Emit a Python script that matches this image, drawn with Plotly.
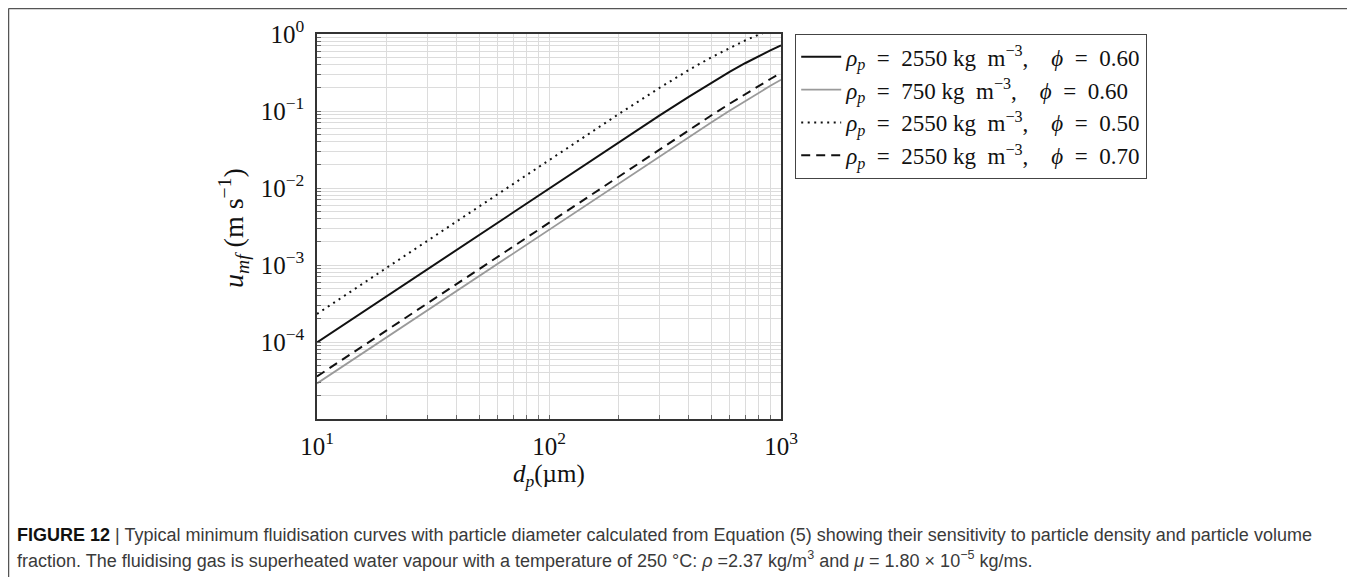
import plotly.graph_objects as go

# particle diameter (µm)
d_p = [10, 100, 200, 300, 400, 500, 600, 700, 800, 900, 1000]

# minimum fluidisation velocity (m/s)
u_2550_060 = [9.87e-5, 9.865e-3, 3.931e-2, 8.757e-2, 0.1528, 0.2320, 0.3214, 0.4170, 0.5154, 0.6139, 0.7107]
u_750_060 = [2.897e-5, 2.8965e-3, 1.1573e-2, 2.5963e-2, 4.589e-2, 7.1045e-2, 0.10095, 0.13498, 0.1724, 0.21244, 0.25432]
u_2550_050 = [2.3135e-4, 2.31e-2, 9.144e-2, 0.2003, 0.3398, 0.4972, 0.6608, 0.8226, 0.9781, 1.1255, 1.2642]
u_2550_070 = [3.569e-5, 3.5684e-3, 1.4257e-2, 3.1977e-2, 5.6504e-2, 8.7434e-2, 0.12415, 0.16585, 0.21161, 0.26045, 0.31142]

NB = "\u00a0"
rho_vals = ["2550", "750", "2550", "2550"]
phi_vals = ["0.60", "0.60", "0.50", "0.70"]
series_names = [
    "<i>ρ<sub>p</sub></i>" + NB * 2 + "=" + NB * 2 + r + NB + "kg" + NB * 2 + "m<sup>−3</sup>," + NB * 4
    + "<i>ϕ</i>" + NB * 2 + "=" + NB * 2 + f
    for r, f in zip(rho_vals, phi_vals)
]

x_tickvals = [m * 10 ** e for e in (1, 2) for m in range(1, 10)] + [1000]
x_ticktext = [("10<sup>%d</sup>" % e if m == 1 else "") for e in (1, 2) for m in range(1, 10)] + ["10<sup>3</sup>"]
y_tickvals = [m * 10.0 ** e for e in (-5, -4, -3, -2, -1) for m in range(1, 10)] + [1.0]
y_ticktext = [("10<sup>−%d</sup>" % (-e) if (m == 1 and e != -5) else "") for e in (-5, -4, -3, -2, -1) for m in range(1, 10)] + ["10<sup>0</sup>"]

SERIF = "Liberation Serif, Times New Roman, serif"
SANS = "Liberation Sans, Arial, sans-serif"

fig = go.Figure()
styles = [
    dict(color="#111111", width=2.0, dash="solid"),
    dict(color="#9a9a9a", width=1.8, dash="solid"),
    dict(color="#111111", width=2.0, dash="2px,4.5px"),
    dict(color="#111111", width=2.0, dash="9px,6px"),
]
for name, ys, st in zip(series_names, [u_2550_060, u_750_060, u_2550_050, u_2550_070], styles):
    fig.add_trace(go.Scatter(x=d_p, y=ys, mode="lines", name=name, line=st))

axis_common = dict(
    type="log",
    showgrid=True,
    gridcolor="#dcdcdc",
    gridwidth=1,
    showline=True,
    linecolor="#333333",
    linewidth=1.5,
    mirror=True,
    ticks="inside",
    ticklen=4,
    tickcolor="#666666",
    tickfont=dict(family=SERIF, size=25, color="#111111"),
    zeroline=False,
)

fig.update_xaxes(range=[1, 3], tickvals=x_tickvals, ticktext=x_ticktext,
                 ticklabelstandoff=4, **axis_common)
fig.update_yaxes(range=[-5, 0], tickvals=y_tickvals, ticktext=y_ticktext,
                 ticklabelstandoff=6, **axis_common)

# page is drawn with an 8 px body margin: figure coords = window coords - 8
OFF = 8
W, H = 1355 - OFF, 577 - OFF
L, R, T, B = 317 - OFF, 781 - OFF, 34 - OFF, 419 - OFF
pw, ph = R - L, B - T

def px(xw):
    return (xw - OFF - L) / pw

def py(yw):
    return (B - (yw - OFF)) / ph

fig.update_layout(
    width=W, height=H,
    margin=dict(l=L, r=W - R, t=T, b=H - B, autoexpand=False),
    paper_bgcolor="white",
    plot_bgcolor="white",
    showlegend=True,
    legend=dict(
        x=px(795), y=1.0, xanchor="left", yanchor="top",
        bordercolor="#444444", borderwidth=1.2, bgcolor="white",
        font=dict(family=SERIF, size=23, color="#111111"),
        itemwidth=40, tracegroupgap=0,
    ),
    font=dict(family=SERIF),
)

annotations = [
    dict(text="<i>d<sub>p</sub></i>(µm)", x=px(549), y=py(475), xref="paper", yref="paper",
         xanchor="center", yanchor="middle", showarrow=False,
         font=dict(family=SERIF, size=25, color="#111111")),
    dict(text="<i>u<sub>mf</sub></i>" + NB + "(m" + NB + "s<sup>−1</sup>)", x=px(234), y=py(228),
         xref="paper", yref="paper",
         xanchor="center", yanchor="middle", showarrow=False, textangle=-90,
         font=dict(family=SERIF, size=28, color="#111111")),
    dict(text="<b><span style='color:#111111'>FIGURE 12</span></b> | Typical minimum fluidisation curves with particle diameter calculated from Equation (5) showing their sensitivity to particle density and particle volume",
         x=px(15), y=py(535), xref="paper", yref="paper", xanchor="left", yanchor="middle",
         showarrow=False, align="left",
         font=dict(family=SANS, size=18, color="#3a3a3a")),
    dict(text="fraction. The fluidising gas is superheated water vapour with a temperature of 250 °C: <i>ρ</i> =2.37 kg/m<sup>3</sup> and <i>μ</i> = 1.80 × 10<sup>−5</sup> kg/ms.",
         x=px(15), y=py(559), xref="paper", yref="paper", xanchor="left", yanchor="middle",
         showarrow=False, align="left",
         font=dict(family=SANS, size=18, color="#3a3a3a")),
]
fig.update_layout(annotations=annotations)

fig.add_shape(type="line", xref="paper", yref="paper", x0=px(8.5), x1=px(1355), y0=py(8.5), y1=py(8.5),
              line=dict(color="#555555", width=1.5))
fig.add_shape(type="line", xref="paper", yref="paper", x0=px(8.5), x1=px(8.5), y0=py(8.5), y1=py(577),
              line=dict(color="#555555", width=1.5))

fig.write_html("out.html")
